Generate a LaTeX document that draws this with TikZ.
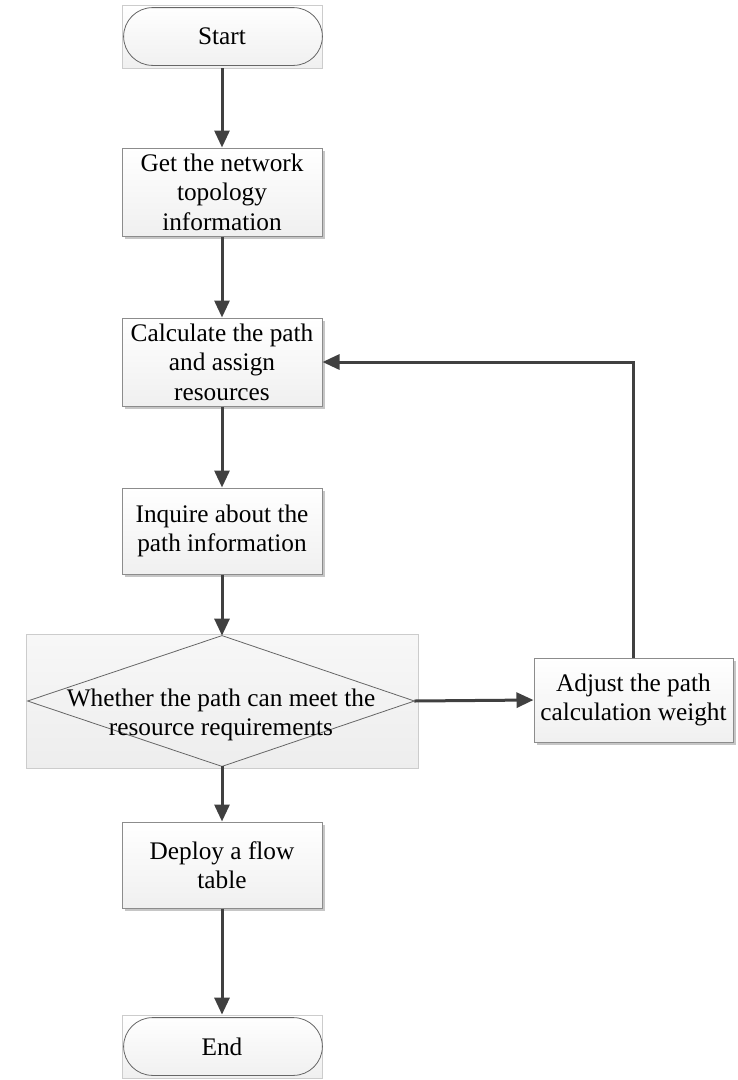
\documentclass[tikz,border=0pt]{standalone}
\usepackage{fontspec}
\setmainfont{Liberation Serif}
\usetikzlibrary{arrows.meta,shadows,positioning,calc}
\definecolor{arrowc}{HTML}{404040}
\definecolor{edgec}{HTML}{8C8C8C}
\tikzset{
  procbox/.style={draw=edgec, line width=1pt, top color=white, bottom color=gray!12,
    minimum width=200pt, align=center, inner sep=0pt,
    font=\fontsize{25.3}{29.5}\selectfont,
    drop shadow={shadow xshift=3pt, shadow yshift=-3pt, fill=gray!45, opacity=1}},
  termbg/.style={draw=gray!40, line width=0.8pt, top color=white, bottom color=gray!12,
    minimum width=200pt, minimum height=63pt, inner sep=0pt},
  pill/.style={draw=gray!80!black, line width=0.8pt, rounded corners=29pt},
  flow/.style={draw=arrowc, line width=3pt, -{Triangle[length=17pt,width=15pt]}},
  txt/.style={font=\fontsize{25.3}{29.5}\selectfont, align=center}
}
\begin{document}
\begin{tikzpicture}[x=1pt,y=-1pt]
\useasboundingbox (0,0) rectangle (738,1080);
% Start
\node[termbg] (start) at (222,36.5) {};
\draw[pill] ($(start.south west)+(2,-3)$) rectangle ($(start.north east)+(0,3)$);
\node[txt] (starttxt) at (start.center) {Start};
% boxes
\node[procbox, minimum height=88pt] (b1) at (222,192) {Get the network\\topology\\information};
\node[procbox, minimum height=88pt] (b2) at (222,362) {Calculate the path\\and assign\\resources};
\node[procbox, minimum height=86pt] (b3) at (222,531) {Inquire about the\\path information};
% decision
\node[draw=gray!40, line width=0.8pt, top color=gray!6, bottom color=gray!14,
      minimum width=392pt, minimum height=134pt, inner sep=0pt] (dec) at (222,701) {};
\draw[draw=gray!80!black, line width=0.8pt]
  ($(dec.north)+(0,2)$) coordinate (dtop) -- ($(dec.west)+(2,0)$) coordinate (dleft)
  -- ($(dec.south)+(0,-2)$) coordinate (dbot) -- ($(dec.east)+(-4,0)$) coordinate (dright) -- cycle;
\node[txt] (dectxt) at (221,715) {Whether the path can meet the\\resource requirements};
\node[procbox, minimum width=199pt, minimum height=84pt] (adj) at (633.5,700) {Adjust the path\\calculation weight};
\node[procbox, minimum height=86pt] (b4) at (222,865) {Deploy a flow\\table};
% End
\node[termbg] (end) at (222,1046.5) {};
\draw[pill] ($(end.south west)+(2,-3)$) rectangle ($(end.north east)+(0,3)$);
\node[txt] (endtxt) at (end.center) {End};
% connectors
\draw[flow] (start.south) -- (b1.north);
\draw[flow] (b1.south) -- (b2.north);
\draw[flow] (b2.south) -- (b3.north);
\draw[flow] (b3.south) -- (dtop);
\draw[flow] (dright) -- (adj.west);
\draw[flow] (adj.north) |- (b2.east);
\draw[flow] (dbot) -- (b4.north);
\draw[flow] (b4.south) -- (end.north);
\end{tikzpicture}
\end{document}
